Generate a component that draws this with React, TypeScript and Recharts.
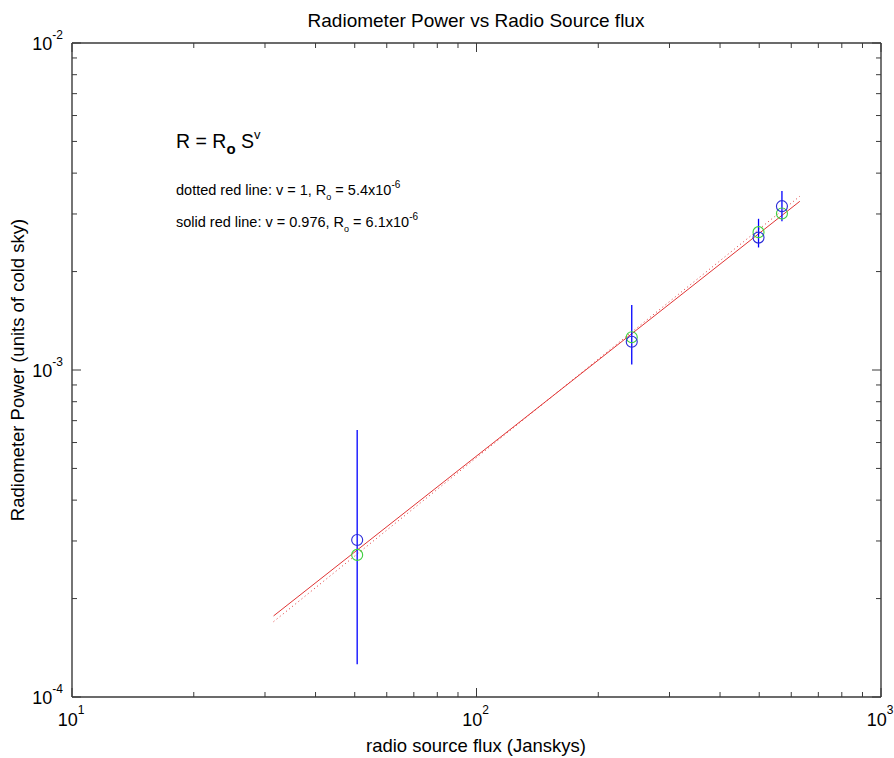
import React from "react";
import { ComposedChart, XAxis, YAxis, Line, Scatter, ErrorBar } from "recharts";

// measured points (Jy, units of cold sky)
const fluxJy = [50.7, 242, 498, 569];
const measuredPower = [3.02e-4, 1.22e-3, 2.54e-3, 3.17e-3];
const powerLow = [1.26e-4, 1.04e-3, 2.37e-3, 2.85e-3];
const powerHigh = [6.55e-4, 1.58e-3, 2.9e-3, 3.53e-3];
const modelPower = [2.72e-4, 1.26e-3, 2.64e-3, 3.01e-3];

// fit lines, end points
const fitFlux = [31.5, 630];
const solidFit = [1.77e-4, 3.28e-3];
const dottedFit = [1.7e-4, 3.4e-3];

const xTicks = [10, 20, 30, 40, 50, 60, 70, 80, 90, 100, 200, 300, 400, 500, 600, 700, 800, 900, 1000];
const yTicks = [
  1e-4, 2e-4, 3e-4, 4e-4, 5e-4, 6e-4, 7e-4, 8e-4, 9e-4,
  1e-3, 2e-3, 3e-3, 4e-3, 5e-3, 6e-3, 7e-3, 8e-3, 9e-3, 1e-2,
];

const FONT = '"Liberation Sans", Arial, Helvetica, sans-serif';
const AXIS = "#3a3a3a";
const RED = "#e03434";

const points = fluxJy.map((s, i) => ({
  s,
  r: measuredPower[i],
  err: [measuredPower[i] - powerLow[i], powerHigh[i] - measuredPower[i]],
}));
const modelPoints = fluxJy.map((s, i) => ({ s, r: modelPower[i] }));
const solidLine = fitFlux.map((s, i) => ({ s, r: solidFit[i] }));
const dottedLine = fitFlux.map((s, i) => ({ s, r: dottedFit[i] }));

const isMajor = (v: number) => Math.abs(Math.log10(v) - Math.round(Math.log10(v))) < 1e-6;
const expOf = (v: number) => Math.round(Math.log10(v));

const BottomTick = ({ x, y, payload }: any) => {
  const v = payload.value;
  const major = isMajor(v);
  return (
    <g>
      <line x1={x} x2={x} y1={y} y2={y - (major ? 9 : 5)} stroke={AXIS} />
      {major && (
        <text x={x - 1} y={y + 29} textAnchor="middle" fontSize={18} fontFamily={FONT} fill="#000">
          10
          <tspan dy={-12} fontSize={12}>{expOf(v)}</tspan>
        </text>
      )}
    </g>
  );
};

const TopTick = ({ x, y, payload }: any) => (
  <line x1={x} x2={x} y1={y} y2={y + (isMajor(payload.value) ? 9 : 5)} stroke={AXIS} />
);

const LeftTick = ({ x, y, payload }: any) => {
  const v = payload.value;
  const major = isMajor(v);
  return (
    <g>
      <line x1={x} x2={x + (major ? 9 : 5)} y1={y} y2={y} stroke={AXIS} />
      {major && (
        <text x={x - 9} y={y + 7} textAnchor="end" fontSize={18} fontFamily={FONT} fill="#000">
          10
          <tspan dy={-11} fontSize={12}>{expOf(v)}</tspan>
        </text>
      )}
    </g>
  );
};

const RightTick = ({ x, y, payload }: any) => (
  <line x1={x} x2={x - (isMajor(payload.value) ? 9 : 5)} y1={y} y2={y} stroke={AXIS} />
);

const ring = (color: string) => (props: any) =>
  <circle cx={props.cx} cy={props.cy} r={5.5} fill="none" stroke={color} strokeWidth={1.1} />;

export default function App() {
  return (
    <div style={{ position: "absolute", left: 0, top: 0, width: 894, height: 758, background: "#fff" }}>
      <ComposedChart width={894} height={758} margin={{ top: 0, right: 0, bottom: 0, left: 0 }}>
        <XAxis
          dataKey="s"
          type="number"
          scale="log"
          domain={[10, 1000]}
          allowDataOverflow
          ticks={xTicks}
          interval={0}
          height={61}
          tickSize={0}
          tickMargin={0}
          tickLine={false}
          axisLine={{ stroke: AXIS, strokeWidth: 1.4 }}
          tick={BottomTick}
        />
        <XAxis
          xAxisId="top"
          orientation="top"
          dataKey="s"
          type="number"
          scale="log"
          domain={[10, 1000]}
          allowDataOverflow
          ticks={xTicks}
          interval={0}
          height={43}
          tickSize={0}
          tickMargin={0}
          tickLine={false}
          axisLine={{ stroke: AXIS, strokeWidth: 1.4 }}
          tick={TopTick}
        />
        <YAxis
          dataKey="r"
          type="number"
          scale="log"
          domain={[1e-4, 1e-2]}
          allowDataOverflow
          ticks={yTicks}
          interval={0}
          width={72}
          tickSize={0}
          tickMargin={0}
          tickLine={false}
          axisLine={{ stroke: AXIS, strokeWidth: 1.4 }}
          tick={LeftTick}
        />
        <YAxis
          yAxisId="right"
          orientation="right"
          dataKey="r"
          type="number"
          scale="log"
          domain={[1e-4, 1e-2]}
          allowDataOverflow
          ticks={yTicks}
          interval={0}
          width={13}
          tickSize={0}
          tickMargin={0}
          tickLine={false}
          axisLine={{ stroke: AXIS, strokeWidth: 1.4 }}
          tick={RightTick}
        />
        {/* keeps the mirror axes bound to something */}
        <Line
          xAxisId="top"
          yAxisId="right"
          data={solidLine}
          dataKey="r"
          stroke="none"
          dot={false}
          isAnimationActive={false}
        />
        <Line
          data={dottedLine}
          dataKey="r"
          stroke={RED}
          strokeWidth={1}
          strokeDasharray="1 3"
          dot={false}
          isAnimationActive={false}
        />
        <Line
          data={solidLine}
          dataKey="r"
          stroke={RED}
          strokeWidth={1}
          dot={false}
          isAnimationActive={false}
        />
        <Scatter data={modelPoints} dataKey="r" shape={ring("#3ecf3e")} isAnimationActive={false} />
        <Scatter data={points} dataKey="r" shape={ring("#2a2ad8")} isAnimationActive={false}>
          <ErrorBar dataKey="err" direction="y" width={0} stroke="#0000ff" strokeWidth={1.3} />
        </Scatter>
      </ComposedChart>

      <svg
        width={894}
        height={758}
        style={{ position: "absolute", left: 0, top: 0, pointerEvents: "none" }}
        fontFamily={FONT}
      >
        <text x={476} y={27} textAnchor="middle" fontSize={19}>
          Radiometer Power vs Radio Source flux
        </text>
        <text x={476} y={752} textAnchor="middle" fontSize={18.5}>
          radio source flux (Janskys)
        </text>
        <text transform="translate(24 370) rotate(-90)" textAnchor="middle" fontSize={18.5}>
          Radiometer Power (units of cold sky)
        </text>

        <text x={176} y={148} fontSize={19.5}>
          R = R
          <tspan dy={6} fontSize={15} fontWeight="bold">o</tspan>
          <tspan dy={-6}> S</tspan>
          <tspan dy={-9} fontSize={13}>v</tspan>
        </text>
        <text x={176} y={195} fontSize={14.5}>
          dotted red line: v = 1, R
          <tspan dy={5} fontSize={9}>o</tspan>
          <tspan dy={-5}> = 5.4x10</tspan>
          <tspan dy={-7} fontSize={10}>-6</tspan>
        </text>
        <text x={176} y={227} fontSize={14.5}>
          solid red line: v = 0.976, R
          <tspan dy={5} fontSize={9}>o</tspan>
          <tspan dy={-5}> = 6.1x10</tspan>
          <tspan dy={-7} fontSize={10}>-6</tspan>
        </text>
      </svg>
    </div>
  );
}
